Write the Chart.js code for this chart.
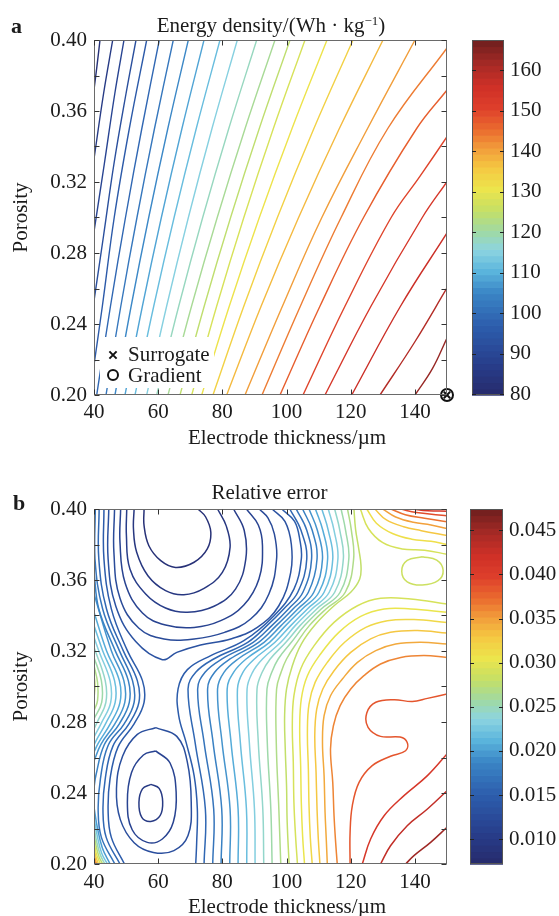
<!DOCTYPE html>
<html>
<head>
<meta charset="utf-8">
<script src="https://cdn.jsdelivr.net/npm/chart.js@4.4.1/dist/chart.umd.min.js"></script>
<style>
  html, body { margin: 0; padding: 0; background: #fff; }
  .panel { position: absolute; left: 0; width: 559px; height: 458px; }
  #panelA { top: 0; }
  #panelB { top: 458px; }
</style>
</head>
<body>
<div class="panel" id="panelA"><canvas id="chartA" width="559" height="458"></canvas></div>
<div class="panel" id="panelB"><canvas id="chartB" width="559" height="458"></canvas></div>
<script>
// ---- panel a: energy density contours, points are [thickness um, porosity] ----
const energyRange = [79.8, 167.4];
const energyLevels = [83, 86.2, 89.4, 92.6, 95.8, 99, 102.2, 105.4, 108.6, 111.8, 115, 118.2, 121.4,
  124.6, 127.8, 131, 134.2, 137.4, 140.6, 143.8, 147, 150.2, 153.4, 156.6, 159.8, 163];
const energyContours = [
  [[41.87, .40], [40.9, .385], [40, .372]],
  [[45.83, .40], [43.0, .37], [40, .333]],
  [[49.35, .40], [46.5, .37], [43.2, .33], [40, .292]],
  [[53.09, .40], [50.0, .37], [46.2, .33], [43.0, .29], [40, .253]],
  [[56.42, .40], [51.0, .35], [46.3, .30], [42.6, .25], [40, .217]],
  [[40.84, .20], [45.13, .25], [49.81, .30], [54.89, .35], [60.35, .40]],
  [[43.74, .20], [48.35, .25], [53.39, .30], [58.84, .35], [64.71, .40]],
  [[46.54, .20], [51.57, .25], [57.05, .30], [62.99, .35], [69.39, .40]],
  [[49.66, .20], [55.08, .25], [60.99, .30], [67.39, .35], [74.28, .40]],
  [[52.78, .20], [58.61, .25], [64.96, .30], [71.85, .35], [79.26, .40]],
  [[56.42, .20], [62.63, .25], [69.41, .30], [76.75, .35], [84.66, .40]],
  [[59.54, .20], [66.40, .25], [73.87, .30], [81.98, .35], [90.70, .40]],
  [[63.06, .20], [70.39, .25], [78.40, .30], [87.06, .35], [96.40, .40]],
  [[66.80, .20], [74.34, .25], [82.57, .30], [91.48, .35], [101.08, .40]],
  [[70.45, .20], [78.22, .25], [86.69, .30], [95.87, .35], [105.75, .40]],
  [[73.56, .20], [82.15, .25], [91.52, .30], [101.68, .35], [112.61, .40]],
  [[77.08, .20], [86.68, .25], [97.15, .30], [108.49, .35], [120.71, .40]],
  [[81.35, .20], [92.07, .25], [103.76, .30], [116.42, .35], [130.06, .40]],
  [[87.06, .20], [98.71, .25], [111.0, .30], [125.2, .35], [140.03, .40]],
  [[92.35, .20], [104.3, .25], [117.0, .30], [131.5, .35], [150, .3955]],
  [[97.96, .20], [110.4, .25], [124.0, .30], [140.5, .35], [150, .3718]],
  [[105.13, .20], [118.2, .25], [132.6, .30], [141.5, .323], [150, .3455]],
  [[111.98, .20], [126.3, .25], [142.3, .30], [150, .3202]],
  [[120.30, .20], [135.5, .25], [150, .2913]],
  [[129.12, .20], [140, .23], [150, .2603]],
  [[140.03, .20], [145.5, .215], [150, .2321]]
];
const optimumSurrogate = [150, 0.20];
const optimumGradient = [150, 0.20];
const legendLabels = ['Surrogate', 'Gradient'];

// ---- panel b: relative error contours ----
const errorRange = [0.0072, 0.0474];
// minimum near the top edge
const errTopLoopLevels = [0.0085, 0.0095, 0.0105, 0.0115, 0.0125, 0.0135];
const errTopLoops = [
  [[55.6, .400], [55.6, .3906], [57.1, .3793], [60.8, .3709], [65.4, .3671], [71.2, .3700], [75.3, .3775], [76.4, .3869], [74.8, .3955], [72.4, .400]],
  [[52.5, .400], [52.3, .3887], [53.3, .3756], [56.8, .3624], [62.3, .3540], [68.0, .3517], [74.3, .3553], [80.0, .3643], [82.4, .3784], [81.2, .3905], [78.5, .400]],
  [[50.2, .400], [50.1, .385], [51.2, .3662], [56.1, .3521], [62.3, .3442], [69.1, .3418], [77.4, .3452], [84.1, .3549], [87.3, .3718], [86.8, .3880], [83.5, .400]],
  [[48.3, .400], [48.1, .3812], [49.7, .3583], [55.1, .3414], [62.3, .3346], [71.2, .3333], [79.5, .3371], [86.7, .3459], [91.4, .3606], [92.5, .3793], [91.2, .3910], [87.5, .400]],
  [[46.4, .400], [46.2, .3756], [48.1, .3497], [54.0, .3328], [61.8, .3268], [71.2, .3268], [80.7, .3305], [88.8, .3380], [94.5, .3521], [96.9, .3718], [96.2, .3860], [94.2, .3950], [91.5, .400]],
  [[44.6, .400], [44.4, .3718], [46.8, .3452], [53.0, .3253], [61.3, .3151], [65.8, .3192], [73.2, .3234], [82.6, .3268], [90.9, .3333], [97.6, .3455], [101.3, .3643], [101.5, .3800], [99.5, .3930], [95.5, .400]]
];
// closed minimum near (57 um, 0.235)
const errLowLoopLevels = [0.0100, 0.0115, 0.0130];
const errLowLoops = [
  [[57.7, .2449], [60.3, .2426], [61.4, .2351], [60.6, .2272], [57.7, .2240], [54.9, .2263], [54.0, .2347], [55.1, .2423], [57.7, .2449]],
  [[59.2, .2637], [63.7, .2569], [65.6, .2404], [64.7, .2235], [61.3, .2141], [56.6, .2122], [51.9, .2193], [50.4, .2347], [51.7, .2516], [55.4, .2614], [59.2, .2637]],
  [[59.2, .2768], [65.8, .2719], [69.1, .2573], [70.3, .2347], [69.3, .2160], [64.9, .2075], [58.5, .2065], [52.5, .2120], [48.2, .2250], [47.0, .2422], [48.9, .2607], [53.5, .2730], [59.2, .2768]]
];
// lines through the saddle
const errSaddleLevels = [0.0148, 0.0148];
const errSaddle = [
  [[43.1, .400], [43.1, .3718], [45.4, .3437], [50.4, .3202], [55.1, .3033], [55.6, .2911], [52.5, .2790], [47.5, .2660], [45.0, .2480], [44.4, .2300], [45.4, .2150], [49.5, .200]],
  [[98.5, .400], [102.5, .3930], [104.2, .3820], [104.6, .3718], [102.3, .3549], [96.1, .3399], [86.7, .3258], [76.4, .3174], [69.1, .3095], [66.2, .2986], [66.4, .2836], [68.7, .2685], [71.2, .2498], [72.2, .2310], [72.0, .2122], [71.7, .200]]
];
// rising towards the left edge
const errLeftLevels = [0.0160, 0.0172, 0.0184, 0.0196, 0.0208, 0.0220, 0.0232, 0.0244, 0.0256, 0.0268, 0.0280];
const errLeft = [
  [[41.6, .400], [41.5, .3718], [43.9, .3437], [49.1, .3202], [53.5, .3033], [54.0, .2911], [50.9, .2790], [45.9, .2664], [43.5, .2480], [42.8, .2300], [43.8, .2150], [48.1, .200]],
  [[40.4, .400], [40.3, .3718], [42.7, .3437], [47.9, .3202], [52.0, .3033], [52.5, .2911], [49.4, .2790], [44.4, .2668], [42.0, .2480], [41.3, .2300], [42.3, .2150], [46.5, .200]],
  [[40, .3643], [41.5, .3437], [46.6, .3202], [50.7, .3033], [51.0, .2911], [47.9, .2790], [43.2, .2672], [40.6, .2500], [40, .2430]],
  [[40, .3521], [45.4, .3202], [49.3, .3033], [49.6, .2911], [46.5, .2790], [42.2, .2676], [40, .2580]],
  [[40, .3418], [43.9, .3202], [47.9, .3033], [48.1, .2911], [45.1, .2791], [41.3, .2680], [40, .2630]],
  [[40, .3343], [42.7, .3202], [46.4, .3033], [46.6, .2911], [43.7, .2794], [40.5, .2690], [40, .2670]],
  [[40, .3277], [41.7, .3192], [45.0, .3033], [45.2, .2911], [42.4, .2798], [40, .2715]],
  [[40, .3221], [43.5, .3033], [43.7, .2911], [41.2, .2807], [40, .2761]],
  [[40, .3164], [42.3, .3033], [42.4, .2911], [40, .2817]],
  [[40, .3117], [41.1, .3023], [41.1, .2920], [40, .2864]],
  [[40, .3070], [40.3, .3005], [40, .2930]]
];
// bottom-left corner
const errCornerLevels = [0.0200, 0.0225, 0.0250, 0.0275, 0.0300, 0.0325, 0.0350, 0.0375, 0.0400];
const errCorner = [
  [[40, .232], [41.0, .221], [42.6, .209], [45.0, .200]],
  [[40, .226], [41.0, .216], [42.4, .206], [44.2, .200]],
  [[40, .221], [40.9, .212], [42.0, .205], [43.4, .200]],
  [[40, .217], [40.8, .209], [41.6, .204], [42.7, .200]],
  [[40, .213], [40.7, .206], [42.0, .200]],
  [[40, .209], [40.6, .204], [41.4, .200]],
  [[40, .206], [40.5, .202], [40.9, .200]],
  [[40, .203], [40.5, .200]],
  [[40, .201], [40.2, .200]]
];
// lines sweeping from the top edge down to the bottom edge
const errSweepLevels = [0.0160, 0.0172, 0.0184, 0.0196, 0.0208, 0.0220, 0.0232, 0.0244, 0.0256, 0.0268, 0.0280];
const errSweep = [
  [[101, .400], [104.5, .3880], [106.3, .3718], [103.5, .3531], [99.1, .3437], [93.9, .3343], [87.9, .3249], [77.3, .3155], [71.7, .3080], [69.3, .2986], [71.5, .2685], [74.7, .2310], [74.3, .200]],
  [[103, .400], [106.3, .3880], [107.8, .3718], [105.1, .3531], [100.6, .3437], [95.4, .3343], [89.6, .3249], [79.9, .3155], [74.6, .3080], [72.3, .2986], [74.3, .2685], [77.3, .2310], [77.0, .200]],
  [[105, .400], [108.0, .3880], [109.5, .3718], [106.8, .3531], [102.0, .3437], [96.8, .3343], [91.3, .3249], [82.4, .3155], [77.6, .3080], [75.4, .2986], [77.1, .2685], [79.8, .2310], [79.6, .200]],
  [[107, .400], [109.6, .3880], [111.2, .3718], [108.5, .3531], [103.5, .3437], [98.3, .3343], [93.0, .3249], [84.9, .3155], [80.5, .3080], [78.5, .2986], [79.9, .2685], [82.4, .2310], [82.3, .200]],
  [[109, .400], [111.3, .3880], [112.8, .3718], [110.1, .3531], [104.9, .3437], [99.7, .3343], [94.7, .3249], [87.4, .3155], [83.5, .3080], [81.5, .2986], [82.7, .2685], [84.9, .2310], [84.9, .200]],
  [[111, .400], [113.0, .3880], [114.4, .3718], [111.7, .3531], [106.5, .3437], [101.3, .3343], [96.4, .3249], [90.0, .3155], [86.4, .3080], [84.7, .2986], [85.6, .2685], [87.5, .2310], [87.6, .200]],
  [[113, .400], [114.8, .3880], [116.0, .3718], [113.3, .3531], [107.9, .3437], [102.7, .3343], [98.2, .3249], [92.5, .3155], [89.4, .3080], [87.7, .2986], [88.4, .2685], [90.0, .2310], [90.2, .200]],
  [[115, .400], [116.6, .3880], [117.7, .3718], [115.0, .3531], [109.4, .3437], [104.2, .3343], [99.8, .3249], [94.9, .3155], [92.4, .3080], [90.8, .2986], [91.2, .2685], [92.6, .2310], [92.9, .200]],
  [[117, .400], [118.4, .3880], [119.4, .3718], [116.7, .3531], [110.8, .3437], [105.6, .3343], [101.5, .3249], [97.4, .3155], [95.4, .3080], [93.9, .2986], [94.0, .2685], [95.1, .2310], [95.5, .200]],
  [[119, .400], [120.2, .3880], [120.9, .3718], [118.3, .3531], [112.3, .3437], [107.1, .3343], [103.3, .3249], [100.0, .3155], [98.3, .3080], [96.9, .2986], [96.8, .2685], [97.6, .2310], [98.2, .200]],
  [[121, .400], [121.5, .3887], [122.5, .3775], [123.2, .3681], [122.8, .3606], [120.0, .3531], [114.8, .3455], [109.1, .3352], [104.6, .3239], [101.8, .3117], [100.0, .2986], [99.4, .2836], [99.6, .2648], [100.0, .2441], [100.2, .2235], [100.8, .200]]
];
// upper right: small closed loop and lines from the top edge to the right edge
const errUpperRightLevels = [0.0286, 0.0292, 0.0310, 0.0330, 0.0350, 0.0370, 0.0390, 0.0410];
const errUpperRight = [
  [[142.3, .3731], [146.8, .3712], [148.8, .3655], [147.2, .3596], [142.3, .3572], [137.6, .3590], [135.9, .3650], [137.6, .3710], [142.3, .3731]],
  [[123, .400], [125.5, .3890], [130, .3810], [136, .3775], [143, .3768], [150, .3745]],
  [[125, .400], [128, .3920], [133, .3862], [139, .3830], [145, .3818], [150, .3800]],
  [[127.5, .400], [131, .3940], [136.5, .3900], [142, .3878], [150, .3850]],
  [[130, .400], [134, .3955], [139.5, .3925], [145, .3910], [150, .3890]],
  [[132.5, .400], [137, .3968], [143, .3948], [150, .3928]],
  [[135.5, .400], [140.5, .3980], [150, .3962]],
  [[139, .400], [144, .3990], [150, .3988]]
];
// lines from the right edge down to the bottom edge
const errLowerRightLevels = [0.0292, 0.0304, 0.0316, 0.0330, 0.0345, 0.0362, 0.0385, 0.0410, 0.0430, 0.0450];
const errLowerRight = [
  [[150, .3465], [138.7, .3493], [129.3, .3497], [122.1, .3455], [114.8, .3361], [108.6, .3230], [104.4, .3099], [102.3, .2948], [101.8, .2779], [102.1, .2573], [102.3, .2347], [102.8, .2160], [103.4, .200]],
  [[150, .3418], [138.7, .3437], [130.4, .3437], [123.1, .3395], [116.3, .3305], [110.6, .3183], [106.5, .3061], [104.6, .2930], [104.1, .2761], [104.4, .2554], [104.6, .2347], [105.0, .2160], [105.6, .200]],
  [[150, .3361], [139.7, .3377], [131.4, .3371], [124.7, .3333], [118.1, .3249], [112.7, .3136], [108.9, .3023], [107.0, .2901], [106.5, .2742], [106.8, .2535], [107.0, .2329], [107.4, .2150], [108.0, .200]],
  [[150, .3301], [140.8, .3315], [132.4, .3305], [126.2, .3268], [120.0, .3192], [114.8, .3089], [111.3, .2986], [109.4, .2873], [108.8, .2723], [109.2, .2516], [109.5, .2310], [109.9, .2141], [110.4, .200]],
  [[150, .3239], [141.8, .3249], [134.0, .3239], [127.8, .3202], [122.1, .3136], [117.4, .3042], [113.7, .2948], [111.7, .2836], [111.2, .2685], [111.7, .2498], [112.0, .2291], [112.4, .2131], [112.7, .200]],
  [[150, .3164], [142.8, .3174], [135.6, .3164], [129.3, .3127], [124.1, .3061], [120.0, .2986], [116.7, .2892], [114.6, .2779], [113.7, .2648], [114.4, .2460], [114.8, .2272], [115.3, .2122], [115.8, .200]],
  [[150, .2958], [143.9, .2933], [139.2, .2915], [133.5, .2926], [127.8, .2911], [125.0, .2851], [125.4, .2770], [129.3, .2719], [135.4, .2715], [137.6, .2685], [137.1, .2638], [132.4, .2607], [126.7, .2554], [122.6, .2460], [120.5, .2329], [119.8, .2178], [119.8, .200]],
  [[150, .2620], [143.9, .2498], [136.6, .2385], [130.4, .2272], [126.2, .2141], [123.6, .200]],
  [[150, .2413], [143.9, .2310], [137.6, .2216], [132.4, .2103], [129.3, .200]],
  [[150, .2207], [144.9, .2122], [139.7, .2047], [137.1, .200]]
];

// colour scale of both colorbars
const cmapStops = [
  [0.00, [38, 42, 107]], [0.10, [40, 65, 143]], [0.20, [45, 95, 174]], [0.29, [59, 134, 198]],
  [0.35, [91, 181, 221]], [0.41, [141, 212, 224]], [0.46, [159, 217, 166]], [0.52, [196, 223, 102]],
  [0.58, [236, 229, 76]], [0.64, [245, 200, 66]], [0.70, [241, 153, 58]], [0.75, [234, 106, 46]],
  [0.81, [222, 63, 43]], [0.87, [207, 48, 39]], [0.93, [168, 42, 38]], [1.00, [109, 30, 30]]
];
function cmap(f) {
  f = Math.min(1, Math.max(0, f));
  for (let i = 1; i < cmapStops.length; i++) {
    const [f0, c0] = cmapStops[i - 1];
    const [f1, c1] = cmapStops[i];
    if (f <= f1) {
      const u = (f - f0) / (f1 - f0);
      return 'rgb(' + c0.map((c, k) => Math.round(c + (c1[k] - c) * u)).join(',') + ')';
    }
  }
}

const serif = "'Liberation Serif', 'Times New Roman', serif";
const ink = '#1b1b1b';
const tickFont = {family: serif, size: 21};

function contourSets(lines, levels, range, width) {
  return lines.map((pts, i) => ({
    data: pts.map(([x, y]) => ({x, y})),
    showLine: true,
    borderColor: cmap((levels[i] - range[0]) / (range[1] - range[0])),
    borderWidth: width,
    pointRadius: 0,
    tension: 0.4,
    yAxisID: 'y'
  }));
}

// frame, inward ticks, legend box, colorbar and the texts around the axes
const decor = {
  id: 'decor',
  afterDatasetsDraw(chart, args, o) {
    const {ctx, chartArea: a, scales: {x, y}} = chart;
    ctx.save();
    if (o.legend) {
      const g = o.legend;
      ctx.fillStyle = '#fff';
      ctx.fillRect(g.left, g.top, g.width, g.height);
      ctx.strokeStyle = '#111';
      ctx.lineWidth = 2;
      const mx = g.left + 13, r = 3.6;
      let yy = g.top + 18;
      ctx.beginPath();
      ctx.moveTo(mx - r, yy - r); ctx.lineTo(mx + r, yy + r);
      ctx.moveTo(mx + r, yy - r); ctx.lineTo(mx - r, yy + r);
      ctx.stroke();
      yy = g.top + 38;
      ctx.beginPath();
      ctx.arc(mx, yy, 5, 0, Math.PI * 2);
      ctx.stroke();
      ctx.fillStyle = ink;
      ctx.font = '21px ' + serif;
      ctx.textBaseline = 'alphabetic';
      ctx.fillText(g.labels[0], g.left + 28, g.top + 24);
      ctx.fillText(g.labels[1], g.left + 28, g.top + 45);
    }
    // axes box
    const L = Math.round(a.left) + 0.5, R = Math.round(a.right) - 0.5;
    const T = Math.round(a.top) + 0.5, B = Math.round(a.bottom) - 0.5;
    ctx.strokeStyle = '#6a6a6a';
    ctx.lineWidth = 1;
    ctx.strokeRect(L, T, R - L, B - T);
    ctx.strokeStyle = '#333';
    ctx.beginPath();
    for (let v = 40; v <= 150; v += 20) {
      const px = Math.round(x.getPixelForValue(v)) + 0.5;
      ctx.moveTo(px, B); ctx.lineTo(px, B - 5);
      ctx.moveTo(px, T); ctx.lineTo(px, T + 5);
    }
    for (let k = 0; k <= 10; k++) {
      const py = Math.round(y.getPixelForValue(0.2 + k * 0.02)) + 0.5;
      ctx.moveTo(L, py); ctx.lineTo(L + 5, py);
      ctx.moveTo(R, py); ctx.lineTo(R - 5, py);
    }
    ctx.stroke();
    ctx.restore();
  },
  afterDraw(chart, args, o) {
    const {ctx, chartArea: a} = chart;
    const cb = chart.scales.cb;
    ctx.save();
    // colorbar in bands
    const n = 56;
    for (let i = 0; i < n; i++) {
      const v0 = cb.min + (cb.max - cb.min) * i / n;
      const v1 = cb.min + (cb.max - cb.min) * (i + 1) / n;
      const y0 = cb.getPixelForValue(v0), y1 = cb.getPixelForValue(v1);
      ctx.fillStyle = cmap((i + 0.5) / n);
      ctx.fillRect(o.barLeft, y1, o.barWidth, y0 - y1 + 0.7);
    }
    ctx.strokeStyle = '#555';
    ctx.lineWidth = 1;
    ctx.strokeRect(o.barLeft + 0.5, Math.round(a.top) + 0.5, o.barWidth - 1, Math.round(a.height) - 1);
    ctx.strokeStyle = '#222';
    ctx.beginPath();
    cb.ticks.forEach(t => {
      const py = Math.round(cb.getPixelForValue(t.value)) + 0.5;
      ctx.moveTo(o.barLeft, py); ctx.lineTo(o.barLeft + 4, py);
      ctx.moveTo(o.barLeft + o.barWidth, py); ctx.lineTo(o.barLeft + o.barWidth - 4, py);
    });
    ctx.stroke();

    ctx.fillStyle = ink;
    ctx.textBaseline = 'alphabetic';
    // panel letter
    ctx.font = 'bold 22px ' + serif;
    ctx.textAlign = 'left';
    ctx.fillText(o.letter, o.letterX, o.letterY);
    // title, with an optional superscript part
    const t = o.title;
    ctx.font = '21px ' + serif;
    const w0 = ctx.measureText(t[0]).width;
    ctx.font = '13px ' + serif;
    const w1 = t[1] ? ctx.measureText(t[1]).width : 0;
    ctx.font = '21px ' + serif;
    const w2 = t[2] ? ctx.measureText(t[2]).width : 0;
    let tx = o.titleX - (w0 + w1 + w2) / 2;
    ctx.fillText(t[0], tx, o.titleY);
    tx += w0;
    if (t[1]) {
      ctx.font = '13px ' + serif;
      ctx.fillText(t[1], tx, o.titleY - 7);
      tx += w1;
      ctx.font = '21px ' + serif;
    }
    if (t[2]) ctx.fillText(t[2], tx, o.titleY);
    // axis titles
    ctx.textAlign = 'center';
    ctx.fillText(o.xTitle, o.xTitleX, o.xTitleY);
    ctx.translate(o.yTitleX, o.yTitleY);
    ctx.rotate(-Math.PI / 2);
    ctx.fillText(o.yTitle, 0, 0);
    ctx.restore();
  }
};

// the axes keep their fixed size and reserve no room for overhanging labels
function fixSize(prop, size) {
  return s => {
    s[prop] = size;
    s.paddingTop = s.paddingBottom = s.paddingLeft = s.paddingRight = 0;
  };
}

function panelOptions(p) {
  return {
    responsive: false,
    animation: false,
    events: [],
    layout: {padding: {top: p.top, left: 0, right: 0, bottom: 0}},
    plugins: {legend: {display: false}, tooltip: {enabled: false}, decor: p},
    scales: {
      x: {
        type: 'linear', position: 'bottom', min: 40, max: 150,
        ticks: {stepSize: 20, includeBounds: false, font: tickFont, color: ink, padding: p.xPad, maxRotation: 0, autoSkip: false},
        grid: {display: false, drawTicks: false}, border: {display: false},
        afterFit: fixSize('height', p.xAxisHeight)
      },
      y: {
        type: 'linear', position: 'left', min: 0.2, max: 0.4,
        ticks: {stepSize: 0.04, font: tickFont, color: ink, padding: 7, callback: v => v.toFixed(2)},
        grid: {display: false, drawTicks: false}, border: {display: false},
        afterFit: fixSize('width', 94)
      },
      cb: {
        type: 'linear', position: 'right', min: p.range[0], max: p.range[1],
        ticks: {stepSize: p.cbStep, includeBounds: false, font: tickFont, color: ink, padding: p.cbPad, callback: p.cbFormat},
        grid: {display: false, drawTicks: false}, border: {display: false},
        afterFit: fixSize('width', 112)
      }
    }
  };
}

new Chart(document.getElementById('chartA'), {
  type: 'scatter',
  data: {
    datasets: contourSets(energyContours, energyLevels, energyRange, 1.4).concat([
      {label: legendLabels[0], data: [{x: optimumSurrogate[0], y: optimumSurrogate[1]}], pointStyle: 'crossRot',
       pointRadius: 4.5, borderColor: '#111', borderWidth: 2, clip: false, yAxisID: 'y'},
      {label: legendLabels[1], data: [{x: optimumGradient[0], y: optimumGradient[1]}], pointStyle: 'circle',
       pointRadius: 6, borderColor: '#111', backgroundColor: 'rgba(0,0,0,0)', borderWidth: 2, clip: false, yAxisID: 'y'}
    ])
  },
  options: panelOptions({
    top: 40, xAxisHeight: 63, xPad: 5, range: energyRange, cbStep: 10, cbPad: 63,
    cbFormat: v => String(Math.round(v)),
    barLeft: 472, barWidth: 32,
    letter: 'a', letterX: 11, letterY: 33,
    title: ['Energy density/(Wh \u00b7 kg', '\u22121', ')'], titleX: 271, titleY: 32,
    xTitle: 'Electrode thickness/\u00b5m', xTitleX: 287, xTitleY: 444,
    yTitle: 'Porosity', yTitleX: 27, yTitleY: 217.5,
    legend: {left: 100, top: 337, width: 114, height: 51, labels: legendLabels}
  }),
  plugins: [decor]
});

new Chart(document.getElementById('chartB'), {
  type: 'scatter',
  data: {
    datasets: [].concat(
      contourSets(errTopLoops, errTopLoopLevels, errorRange, 1.5),
      contourSets(errLowLoops, errLowLoopLevels, errorRange, 1.5),
      contourSets(errSaddle, errSaddleLevels, errorRange, 1.5),
      contourSets(errLeft, errLeftLevels, errorRange, 1.5),
      contourSets(errCorner, errCornerLevels, errorRange, 1.5),
      contourSets(errSweep, errSweepLevels, errorRange, 1.5),
      contourSets(errUpperRight, errUpperRightLevels, errorRange, 1.5),
      contourSets(errLowerRight, errLowerRightLevels, errorRange, 1.5)
    )
  },
  options: panelOptions({
    top: 51, xAxisHeight: 52, xPad: 6, range: errorRange, cbStep: 0.005, cbPad: 62,
    cbFormat: v => v.toFixed(3),
    barLeft: 470, barWidth: 33,
    letter: 'b', letterX: 13, letterY: 52,
    title: ['Relative error'], titleX: 269.5, titleY: 40.5,
    xTitle: 'Electrode thickness/\u00b5m', xTitleX: 287, xTitleY: 455,
    yTitle: 'Porosity', yTitleX: 27, yTitleY: 228.5
  }),
  plugins: [decor]
});
</script>
</body>
</html>
